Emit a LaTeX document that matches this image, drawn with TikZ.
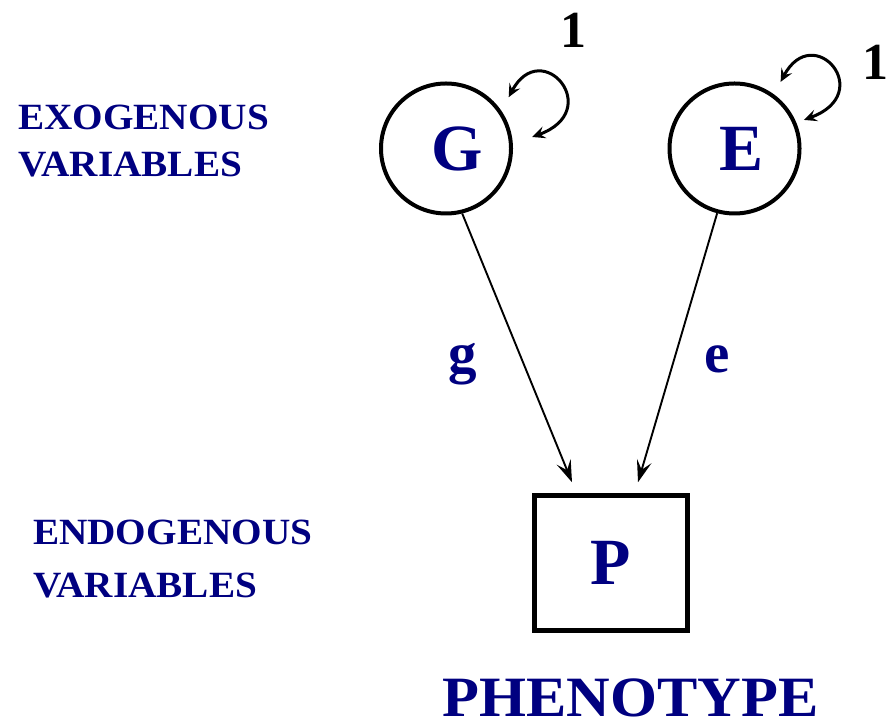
\documentclass[tikz,border=0pt]{standalone}
\usepackage{fontspec}
\usepackage{tikz}
\usetikzlibrary{arrows.meta, positioning, calc}
\setmainfont{Liberation Serif}
\newfontfamily\widefont[FakeStretch=1.06]{Liberation Serif}
\definecolor{mynavy}{RGB}{0,0,128}
\tikzset{
  latent/.style={circle, draw=black, line width=4pt, minimum size=130pt,
    inner sep=0pt, text=mynavy, font=\fontsize{66}{66}\selectfont\bfseries},
  manifest/.style={rectangle, draw=black, line width=4.5pt,
    minimum width=153pt, minimum height=135pt, inner sep=0pt,
    text=mynavy, font=\fontsize{66}{66}\selectfont\bfseries},
  arrow/.style={-{Stealth[length=22pt, width=15pt, inset=9pt]}, line width=1.9pt, color=black},
  varloop/.style={{Stealth[length=13pt, width=12pt, inset=5pt]}-{Stealth[length=13pt, width=12pt, inset=5pt]},
    line width=3pt, color=black},
  coef/.style={text=mynavy, font=\fontsize{57}{57}\selectfont\bfseries, inner sep=0pt, anchor=base},
  unit/.style={text=black, font=\fontsize{52}{52}\selectfont\bfseries, inner sep=0pt, anchor=base},
  sidelabel/.style={text=mynavy, align=left, inner sep=0pt, anchor=north west}
}
\begin{document}
\begin{tikzpicture}[x=1pt, y=1pt]
  \useasboundingbox (0,0) rectangle (888,725);
  % variables
  \node[latent] (G) at (446,576.5) {\kern22pt G};
  \node[latent] (E) at (734.5,576.5) {\kern14pt E};
  \node[manifest] (P) at (611,162) {P};
  % causal paths
  \draw[arrow] (G.-76) -- ([shift={(-39pt,11pt)}]P.north);
  \draw[arrow] (E.-105) -- ([shift={(27pt,11pt)}]P.north);
  \node[coef] (g) at (463,352) {g};
  \node[coef] (e) at (717,352) {e};
  % variances
  \draw[varloop] ([shift={(39.3:81pt)}]G.center) .. controls +(32.9,61.8) and +(73.3,26.7) .. ([shift={(7.6:87pt)}]G.center);
  \draw[varloop] ([shift={(55.3:81pt)}]E.center) .. controls +(32.9,61.8) and +(73.3,26.7) .. ([shift={(22.4:75pt)}]E.center);
  \node[unit] (varG) at (573,677) {1};
  \node[unit] (varE) at (875,645) {1};
  % side labels
  \node[sidelabel, font=\widefont\fontsize{37}{47}\selectfont\bfseries] (exo) at (18,620) {EXOGENOUS\\VARIABLES};
  \node[sidelabel, font=\widefont\fontsize{37}{53}\selectfont\bfseries] (endo) at (33,205) {ENDOGENOUS\\VARIABLES};
  \node[text=mynavy, font=\widefont\fontsize{57}{57}\selectfont\bfseries, inner sep=0pt, anchor=base] (pheno) at (630.5,8.5) {PHENOTYPE};
\end{tikzpicture}
\end{document}
